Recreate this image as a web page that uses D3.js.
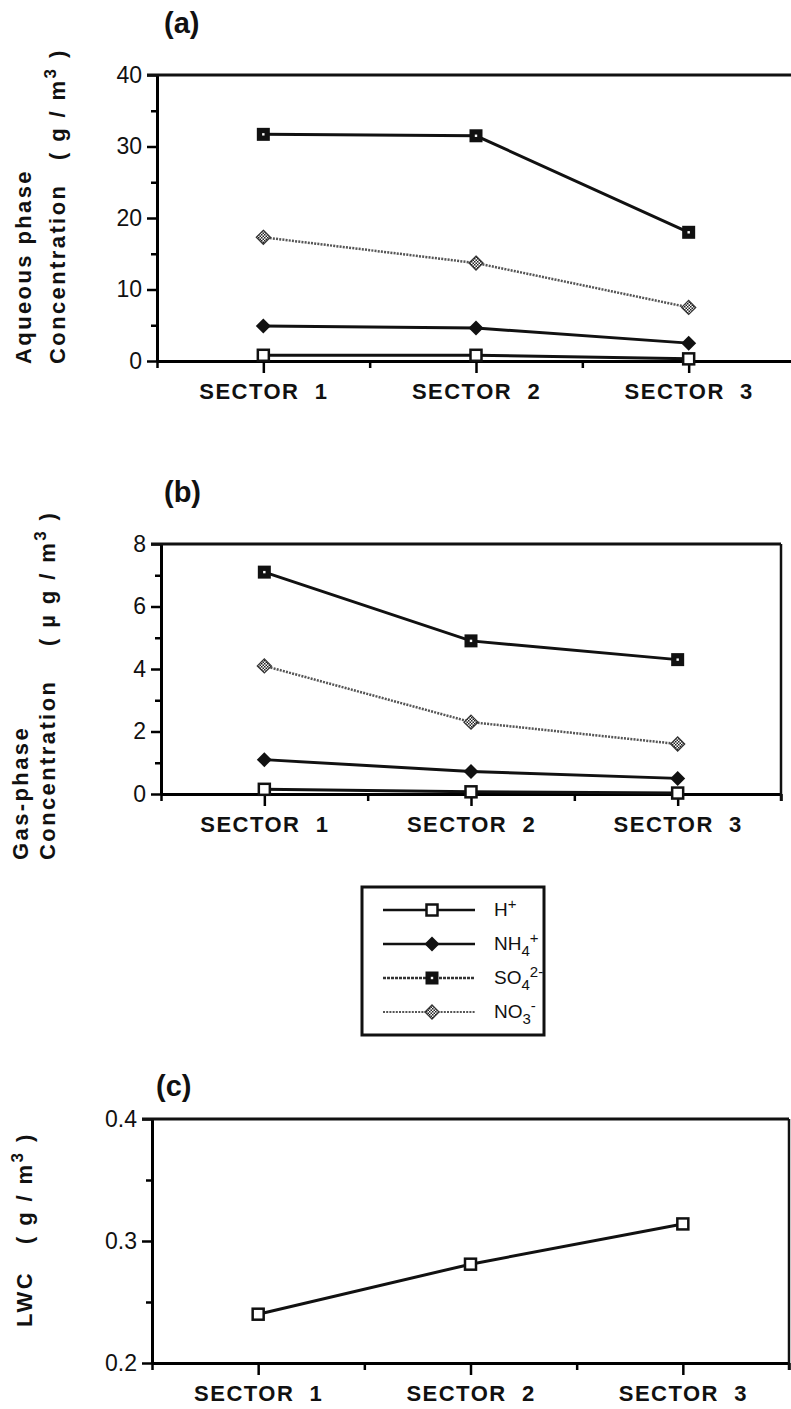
<!DOCTYPE html>
<html>
<head>
<meta charset="utf-8">
<script src="https://cdn.jsdelivr.net/npm/d3@7"></script>
<style>
  body { margin: 0; background: #fff; }
  svg { display: block; font-family: "Liberation Sans", Arial, Helvetica, sans-serif; }
  .tick text { fill: #111; }
  .xax .tick text { font-weight: bold; letter-spacing: 1.5px; }
  .ytitle { font-weight: bold; font-size: 22px; letter-spacing: 2.4px; fill: #111; }
  .ptitle { font-weight: bold; font-size: 29px; fill: #111; }
  .leg text { font-size: 18px; fill: #111; }
</style>
</head>
<body>
<svg width="791" height="1409"></svg>
<script>
// sector names, placed at positions 1, 3, 5 of a 0..6 axis
const sectors = ["SECTOR  1", "SECTOR  2", "SECTOR  3"];

// (a) aqueous phase concentration
const aqH   = [0.8, 0.8, 0.3];
const aqNH4 = [4.9, 4.6, 2.5];
const aqSO4 = [31.7, 31.5, 18.0];
const aqNO3 = [17.3, 13.7, 7.5];

// (b) gas-phase concentration (ug/m3)
const gasH   = [0.15, 0.07, 0.03];
const gasNH4 = [1.1, 0.72, 0.5];
const gasSO4 = [7.1, 4.9, 4.3];
const gasNO3 = [4.1, 2.3, 1.6];

// (c) liquid water content
const lwc = [0.240, 0.281, 0.314];

const svg = d3.select("svg");
const FONT = '"Liberation Sans", Arial, Helvetica, sans-serif';

// checkered fill for the NO3 diamonds
const defs = svg.append("defs");
const pat = defs.append("pattern").attr("id", "check")
  .attr("width", 3).attr("height", 3).attr("patternUnits", "userSpaceOnUse");
pat.append("rect").attr("width", 3).attr("height", 3).attr("fill", "#fff");
pat.append("rect").attr("width", 1.5).attr("height", 1.5).attr("fill", "#222");
pat.append("rect").attr("x", 1.5).attr("y", 1.5).attr("width", 1.5).attr("height", 1.5).attr("fill", "#222");

const styles = {
  H:   { stroke: "#111", dash: null, width: 3 },
  NH4: { stroke: "#111", dash: null, width: 3 },
  SO4: { stroke: "#111", dash: null, width: 3 },
  NO3: { stroke: "#555", dash: "2 1.2", width: 2.5 }
};

function drawMarker(g, kind, x, y) {
  if (kind === "H") {
    g.append("rect").attr("x", x - 5.5).attr("y", y - 5.5).attr("width", 11).attr("height", 11)
      .attr("fill", "#fff").attr("stroke", "#111").attr("stroke-width", 2.5);
  } else if (kind === "SO4") {
    g.append("rect").attr("x", x - 6.5).attr("y", y - 6.5).attr("width", 13).attr("height", 13)
      .attr("fill", "#111");
    g.append("rect").attr("x", x - 1.2).attr("y", y - 1.2).attr("width", 2.4).attr("height", 2.4)
      .attr("fill", "#fff");
  } else if (kind === "NH4") {
    g.append("path").attr("d", `M${x},${y - 7.5}L${x + 7.5},${y}L${x},${y + 7.5}L${x - 7.5},${y}Z`)
      .attr("fill", "#111");
  } else if (kind === "NO3") {
    g.append("path").attr("d", `M${x},${y - 7}L${x + 7},${y}L${x},${y + 7}L${x - 7},${y}Z`)
      .attr("fill", "url(#check)").attr("stroke", "#333").attr("stroke-width", 1.3);
  }
}

function panel(opt) {
  const x = d3.scaleLinear().domain([0, 6]).range([opt.left, opt.right]);
  const y = d3.scaleLinear().domain(opt.domain).range([opt.bottom, opt.top]);
  const g = svg.append("g");

  // y axis, minor ticks unlabeled
  const yTicks = d3.range(opt.domain[0], opt.domain[1] + opt.step / 2, opt.step);
  const isMajor = v => Math.abs(Math.round((v - opt.domain[0]) / opt.major) * opt.major - (v - opt.domain[0])) < 1e-6;
  const yAx = g.append("g").attr("transform", `translate(${opt.left},0)`)
    .call(d3.axisLeft(y).tickValues(yTicks).tickSizeOuter(0).tickPadding(6)
      .tickFormat(v => isMajor(v) ? opt.fmt(v) : ""))
    .attr("font-family", FONT).attr("font-size", 23);
  yAx.selectAll(".tick line").attr("x2", v => isMajor(v) ? -10 : -6).attr("stroke-width", 2.5);
  yAx.selectAll(".tick text").attr("x", -15);
  yAx.select(".domain").attr("stroke-width", 3);

  // x axis with sector names at odd positions
  const xAx = g.append("g").attr("class", "xax").attr("transform", `translate(0,${opt.bottom})`)
    .call(d3.axisBottom(x).tickValues(d3.range(0, 7)).tickSizeOuter(0)
      .tickFormat(v => v % 2 ? sectors[(v - 1) / 2] : ""))
    .attr("font-family", FONT).attr("font-size", 22);
  xAx.selectAll(".tick line").attr("y2", v => v % 2 ? 12 : 7).attr("stroke-width", 2.5);
  xAx.selectAll(".tick text").attr("y", 22).attr("dy", "0.71em").style("white-space", "pre");
  xAx.select(".domain").attr("stroke-width", 3);

  // top and right frame
  g.append("line").attr("x1", opt.left - 10).attr("x2", opt.right).attr("y1", opt.top).attr("y2", opt.top)
    .attr("stroke", "#111").attr("stroke-width", 3);
  g.append("line").attr("x1", opt.right).attr("x2", opt.right).attr("y1", opt.top).attr("y2", opt.bottom + 7)
    .attr("stroke", "#111").attr("stroke-width", 2.5);

  // series
  const line = d3.line().x((d, i) => x(2 * i + 1)).y(d => y(d));
  opt.series.forEach(s => {
    const st = styles[s.kind];
    g.append("path").attr("d", line(s.values)).attr("fill", "none")
      .attr("stroke", st.stroke).attr("stroke-width", st.width)
      .attr("stroke-dasharray", st.dash);
  });
  opt.series.forEach(s => {
    s.values.forEach((v, i) => drawMarker(g, s.kind, x(2 * i + 1), y(v)));
  });

  svg.append("text").attr("class", "ptitle").attr("x", opt.titleX).attr("y", opt.titleY).text(opt.title);
}

// rotated y title with optional superscript 3
function yTitle(px, py, parts) {
  const t = svg.append("text").attr("class", "ytitle")
    .attr("transform", `translate(${px},${py}) rotate(-90)`);
  parts.forEach(p => {
    const ts = t.append("tspan").text(p.t);
    if (p.sup) ts.attr("dy", -9).style("font-size", "17px");
    if (p.down) ts.attr("dy", 9);
  });
}

panel({
  left: 157, right: 795, top: 75, bottom: 361, domain: [0, 40], step: 5, major: 10,
  fmt: d3.format("d"), title: "(a)", titleX: 164, titleY: 33,
  series: [
    { kind: "H", values: aqH }, { kind: "NH4", values: aqNH4 },
    { kind: "SO4", values: aqSO4 }, { kind: "NO3", values: aqNO3 }
  ]
});
panel({
  left: 161, right: 781, top: 544, bottom: 794, domain: [0, 8], step: 1, major: 2,
  fmt: d3.format("d"), title: "(b)", titleX: 164, titleY: 502,
  series: [
    { kind: "H", values: gasH }, { kind: "NH4", values: gasNH4 },
    { kind: "SO4", values: gasSO4 }, { kind: "NO3", values: gasNO3 }
  ]
});
panel({
  left: 152, right: 789, top: 1119, bottom: 1363, domain: [0.2, 0.4], step: 0.05, major: 0.1,
  fmt: d3.format(".1f"), title: "(c)", titleX: 156, titleY: 1096,
  series: [{ kind: "H", values: lwc }]
});

yTitle(31, 364, [{ t: "Aqueous  phase" }]);
yTitle(65, 364, [{ t: "Concentration" }]);
yTitle(65, 160, [{ t: "( g / m" }, { t: "3", sup: true }, { t: " )", down: true }]);

yTitle(28, 860, [{ t: "Gas-phase" }]);
yTitle(55, 860, [{ t: "Concentration" }]);
yTitle(55, 646, [{ t: "( µ g / m" }, { t: "3", sup: true }, { t: " )", down: true }]);

yTitle(32, 1327, [{ t: "LWC" }]);
yTitle(32, 1244, [{ t: "( g / m" }, { t: "3", sup: true }, { t: " )", down: true }]);

// legend
const legendItems = [
  { kind: "H",   parts: [["H", 0], ["+", -1]] },
  { kind: "NH4", parts: [["NH", 0], ["4", 1], ["+", -1]] },
  { kind: "SO4", parts: [["SO", 0], ["4", 1], ["2-", -1]] },
  { kind: "NO3", parts: [["NO", 0], ["3", 1], ["-", -1]] }
];
const leg = svg.append("g").attr("class", "leg");
leg.append("rect").attr("x", 362).attr("y", 887).attr("width", 182).attr("height", 148)
  .attr("fill", "#fff").attr("stroke", "#111").attr("stroke-width", 3);
legendItems.forEach((it, i) => {
  const ly = 910 + i * 34;
  const st = styles[it.kind];
  const legStroke = it.kind === "SO4" ? "#333" : st.stroke;
  leg.append("line").attr("x1", 383).attr("x2", 475).attr("y1", ly).attr("y2", ly)
    .attr("stroke", legStroke).attr("stroke-width", it.kind === "NO3" ? 2 : 2.5)
    .attr("stroke-dasharray", it.kind === "SO4" ? "3 1" : st.dash);
  drawMarker(leg, it.kind, 432, ly);
  const t = leg.append("text").attr("x", 494).attr("y", ly + 6);
  let cur = 0;
  it.parts.forEach(([s, lvl]) => {
    const target = lvl === 1 ? 6 : lvl === -1 ? -7 : 0;
    t.append("tspan").attr("dy", target - cur).style("font-size", lvl ? "15px" : "19px").text(s);
    cur = target;
  });
});
</script>
</body>
</html>
